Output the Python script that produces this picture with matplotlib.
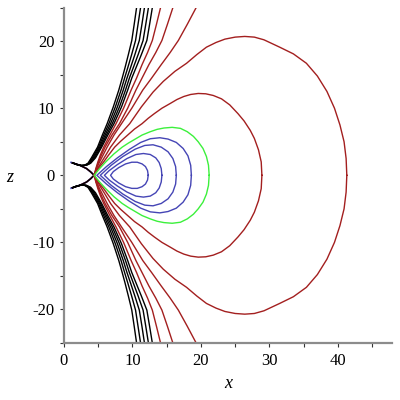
import matplotlib
matplotlib.use("Agg")
import matplotlib.pyplot as plt
from matplotlib.ticker import MultipleLocator

# upper halves (z >= 0) of the contour curves; lower half is the mirror
# black curves: from the left tip up to the top edge
black_z = [1.85, 1.6, 1.45, 1.5, 1.8, 2.6, 3.4, 4.2, 6.0, 7.7, 10.2, 12.7, 14.5, 16.0, 18.0, 20.1, 22.5, 25]
black_x = [
    [1.25, 1.9, 2.5, 3.0, 3.5, 4.0, 4.45, 4.9, 5.6, 6.3, 7.2, 8.0, 8.5, 8.9, 9.4, 9.9, 10.25, 10.6],
    [1.25, 1.9, 2.53, 3.08, 3.6, 4.15, 4.6, 5.05, 5.8, 6.55, 7.5, 8.33, 8.85, 9.3, 9.88, 10.45, 10.81, 11.18],
    [1.25, 1.9, 2.55, 3.15, 3.7, 4.3, 4.75, 5.2, 6.0, 6.8, 7.8, 8.65, 9.2, 9.7, 10.35, 11.0, 11.38, 11.75],
    [1.25, 1.9, 2.58, 3.23, 3.8, 4.45, 4.9, 5.35, 6.2, 7.05, 8.1, 8.98, 9.55, 10.1, 10.83, 11.55, 11.94, 12.33],
    [1.25, 1.9, 2.6, 3.3, 3.9, 4.6, 5.05, 5.5, 6.4, 7.3, 8.4, 9.3, 9.9, 10.5, 11.3, 12.1, 12.5, 12.9],
]

# open red curves: from the neck up to the top edge
red_open_z = [0, 1, 2, 3, 4.2, 6, 7.7, 10, 12.7, 14.5, 16.5, 18.3, 20.1, 22.5, 25]
red_open_x = [
    [4.4, 4.65, 4.95, 5.3, 5.8, 6.7, 7.6, 8.7, 9.8, 10.6, 11.4, 12.2, 12.9, 13.5, 14.1],
    [4.4, 4.7, 5.05, 5.45, 6.0, 7.0, 8.1, 9.3, 10.5, 11.4, 12.4, 13.4, 14.3, 15.1, 15.9],
    [4.4, 4.75, 5.2, 5.7, 6.3, 7.3, 8.4, 9.9, 11.5, 12.8, 14.2, 15.5, 16.7, 18.0, 19.3],
]

# closed red curves (neck -> over the top -> right crossing)
red_big_x = [4.4, 4.9, 5.5, 6.1, 6.8, 8.1, 9.6, 11.3, 13.0, 14.5, 16.2, 17.9, 19.4, 20.8, 22.2,
             23.5, 25.0, 26.4, 27.8, 29.2, 31.5, 33.5, 35.4, 37.0, 38.4, 39.5, 40.3, 40.9, 41.2, 41.3]
red_big_z = [0, 1, 2, 3, 4.2, 6, 7.7, 10.2, 12.4, 14.0, 15.5, 16.7, 18.0, 19.1, 19.8,
             20.3, 20.6, 20.7, 20.6, 20.2, 19.1, 18.1, 16.7, 14.8, 12.5, 10.0, 7.5, 5.0, 2.5, 0]
red_small_x = [4.4, 5.0, 5.8, 6.5, 7.4, 8.3, 9.3, 10.3, 11.4, 12.3, 13.2, 14.3, 15.5, 16.5, 17.5,
               18.5, 19.6, 20.7, 21.8, 23.0, 24.2, 25.4, 26.3, 27.2, 27.8, 28.4, 28.8, 28.9]
red_small_z = [0, 1, 2, 3, 4.2, 5.1, 6.0, 6.9, 7.7, 8.5, 9.2, 10.0, 10.7, 11.3, 11.75,
               12.05, 12.2, 12.15, 11.9, 11.4, 10.5, 9.2, 8.1, 6.7, 5.5, 3.8, 2.0, 0]

green_x = [4.4, 5.2, 6.1, 7.3, 8.5, 9.4, 10.4, 11.4, 12.6, 13.6, 14.6, 15.8, 17.0, 18.0, 18.9,
           19.6, 20.3, 20.8, 21.1, 21.2]
green_z = [0, 1, 2, 3.2, 4.2, 4.8, 5.4, 6.0, 6.5, 6.85, 7.05, 7.15, 7.0, 6.5, 5.8,
           5.0, 4.0, 2.8, 1.5, 0]

# blue loops (left point -> over the top -> right crossing)
blue_x = [
    [4.8, 6.2, 7.8, 9.6, 11.2, 12.6, 14.0, 15.2, 16.4, 17.4, 18.1, 18.5, 18.6],
    [5.3, 6.9, 8.6, 10.4, 11.8, 13.0, 14.2, 15.2, 15.9, 16.3, 16.4],
    [5.9, 6.6, 7.8, 9.2, 10.5, 11.6, 12.6, 13.4, 13.9, 14.2, 14.3],
    [6.8, 7.2, 8.0, 9.0, 9.9, 10.7, 11.4, 11.9, 12.2, 12.3],
]
blue_z = [
    [0, 1.3, 2.6, 3.9, 4.9, 5.45, 5.6, 5.4, 4.9, 4.0, 2.9, 1.5, 0],
    [0, 1.5, 2.8, 3.9, 4.45, 4.55, 4.2, 3.5, 2.5, 1.3, 0],
    [0, 0.7, 1.6, 2.5, 3.1, 3.25, 3.1, 2.6, 1.9, 1.0, 0],
    [0, 0.55, 1.15, 1.7, 1.95, 1.95, 1.7, 1.3, 0.7, 0],
]

# short left arm from the neck to the tip (blue reaches a little further out)
arm_x = [4.4, 3.9, 3.3, 2.3, 1.25]
arm_z = [0, 0.5, 1.0, 1.5, 1.85]
blue_arm_x = [4.4, 3.9, 3.3, 2.3, 1.5, 1.05]
blue_arm_z = [0, 0.5, 1.0, 1.5, 1.76, 1.92]

BLACK = "#000000"
RED = "#a31f1f"
GREEN = "#3cf03c"
BLUE = "#4545b5"
LW = 1.0


def mirrored(xs, zs):
    # walk the upper half backwards, then the lower half forwards
    return xs[::-1] + xs[1:], zs[::-1] + [-v for v in zs[1:]]


fig = plt.figure(figsize=(4, 4), dpi=100)
ax = fig.add_axes([0.16, 0.1425, 0.82, 0.8385])

# left arms (blue at the tip, the rest on top)
ax.plot(blue_arm_x, blue_arm_z, color=BLUE, lw=1.3)
ax.plot(blue_arm_x, [-v for v in blue_arm_z], color=BLUE, lw=1.3)
for col in [RED, BLACK]:
    ax.plot(arm_x, arm_z, color=col, lw=LW)
    ax.plot(arm_x, [-v for v in arm_z], color=col, lw=LW)

for xs in black_x:
    ax.plot(xs, black_z, color=BLACK, lw=LW)
    ax.plot(xs, [-v for v in black_z], color=BLACK, lw=LW)

for xs in red_open_x:
    ax.plot(*mirrored(xs, red_open_z), color=RED, lw=LW)

ax.plot(*mirrored(red_big_x, red_big_z), color=RED, lw=LW)
ax.plot(*mirrored(red_small_x, red_small_z), color=RED, lw=LW)
ax.plot(*mirrored(green_x, green_z), color=GREEN, lw=LW)
for xs, zs in zip(blue_x, blue_z):
    ax.plot(*mirrored(xs, zs), color=BLUE, lw=LW)

ax.set_xlim(0, 47.9)
ax.set_ylim(-25, 25)

for side in ["top", "right"]:
    ax.spines[side].set_visible(False)
for side in ["left", "bottom"]:
    ax.spines[side].set_color("#8c8c8c")
    ax.spines[side].set_linewidth(1.6)

ax.xaxis.set_major_locator(MultipleLocator(10))
ax.xaxis.set_minor_locator(MultipleLocator(5))
ax.yaxis.set_major_locator(MultipleLocator(10))
ax.yaxis.set_minor_locator(MultipleLocator(5))
ax.tick_params(which="both", direction="out", length=3, width=0.8, color="#333333",
               labelsize=12, pad=4)
for lab in ax.get_xticklabels() + ax.get_yticklabels():
    lab.set_family("Liberation Serif")
ax.yaxis.set_major_formatter(plt.FuncFormatter(lambda v, p: "%d" % v))

fig.text(0.025, 0.555, "z", fontsize=13, family="Liberation Serif", style="italic",
         ha="center", va="center")
fig.text(0.57, 0.04, "x", fontsize=13, family="Liberation Serif", style="italic",
         ha="center", va="center")

fig.savefig("out.png", dpi=100)
